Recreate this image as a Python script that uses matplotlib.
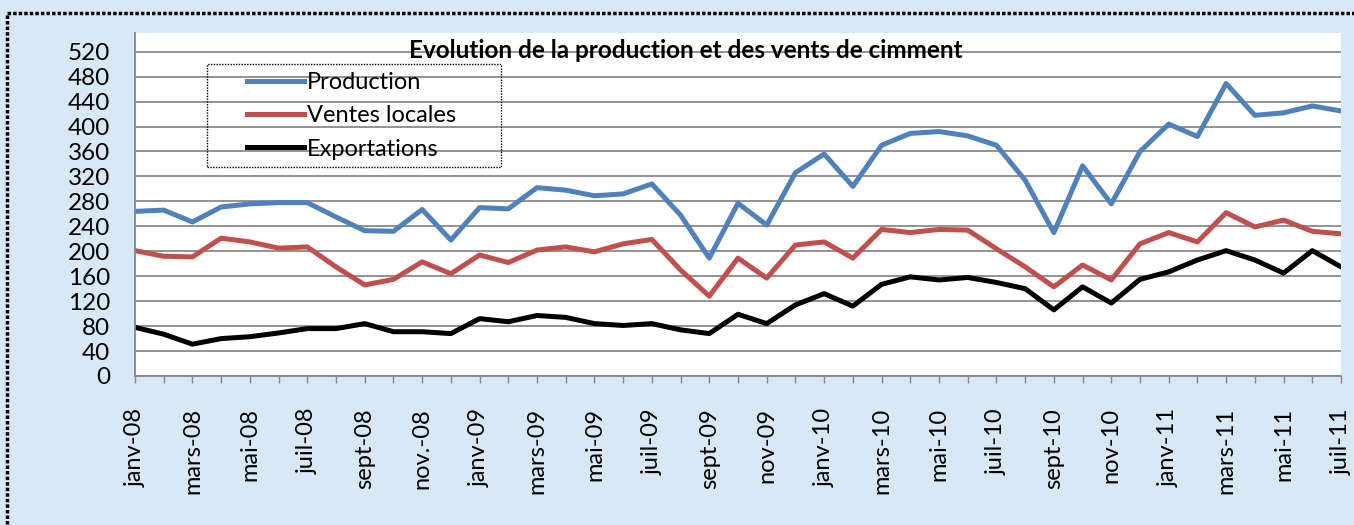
import matplotlib.pyplot as plt
import matplotlib.patches as patches
import numpy as np

plt.rcParams.update({"font.family": ["Lato", "DejaVu Sans"]})

# monthly values, janv-08 .. juil-11
production = [264, 266, 247, 271, 276, 278, 278, 255, 233, 232, 267, 218, 270, 268, 302,
              298, 289, 292, 308, 258, 189, 277, 242, 326, 356, 304, 370, 389, 392, 385,
              370, 314, 230, 337, 276, 360, 404, 384, 469, 418, 422, 433, 425]
ventes_locales = [201, 192, 191, 221, 215, 205, 207, 175, 146, 155, 183, 164, 194, 182, 202,
                  207, 199, 212, 219, 170, 128, 189, 157, 210, 215, 189, 235, 230, 235, 234,
                  204, 175, 143, 178, 154, 212, 230, 215, 262, 239, 250, 232, 228]
exportations = [78, 67, 51, 60, 63, 69, 76, 76, 84, 71, 71, 68, 92, 87, 97,
                94, 84, 81, 84, 74, 68, 99, 84, 114, 132, 112, 147, 159, 154, 158,
                150, 140, 106, 143, 117, 155, 167, 186, 201, 186, 165, 201, 175]
tick_labels = ["janv-08", "mars-08", "mai-08", "juil-08", "sept-08", "nov.-08",
               "janv-09", "mars-09", "mai-09", "juil-09", "sept-09", "nov-09",
               "janv-10", "mars-10", "mai-10", "juil-10", "sept-10", "nov-10",
               "janv-11", "mars-11", "mai-11", "juil-11"]

W, H = 1354, 525
fig = plt.figure(figsize=(W / 100, H / 100), dpi=100)
fig.patch.set_facecolor("#d9e8f6")

# dotted outer frame of the chart object
fig.patches.append(patches.Rectangle((7 / W, -0.1), 1.2, 1 - 13 / H + 0.1,
                                     transform=fig.transFigure, fill=False,
                                     edgecolor="black", linewidth=2.5,
                                     linestyle=(0, (1, 0.6))))

ax = fig.add_axes([135 / W, 1 - 376 / H, (1341 - 135) / W, (376 - 33) / H])
ax.set_facecolor("white")

x = np.arange(len(production))
ax.plot(x, production, color="#4F81BD", linewidth=3.6, label="Production", solid_joinstyle="round")
ax.plot(x, ventes_locales, color="#C0504D", linewidth=3.6, label="Ventes locales", solid_joinstyle="round")
ax.plot(x, exportations, color="black", linewidth=3.6, label="Exportations", solid_joinstyle="round")

ax.set_xlim(0, len(production) - 1)
ax.set_ylim(0, 550)
ax.set_yticks(np.arange(0, 521, 40))
ax.set_xticks(x)
ax.set_xticklabels([tick_labels[i // 2] if i % 2 == 0 else "" for i in x],
                   rotation=90, va="top", ha="center")
ax.tick_params(axis="x", length=5, width=1, color="#868686", pad=18, labelsize=17)
ax.tick_params(axis="y", length=0, pad=18, labelsize=17.5)

ax.grid(axis="y", color="#8a8a8a", linewidth=1.3)
ax.set_axisbelow(True)
for s in ["top", "right"]:
    ax.spines[s].set_visible(False)
for s in ["left", "bottom"]:
    ax.spines[s].set_color("#868686")
    ax.spines[s].set_linewidth(1.3)

fig.text(686 / W, 1 - 50 / H, "Evolution de la production et des vents de cimment",
         ha="center", va="center", fontsize=17.5, fontweight="bold")

# legend box (transparent, dotted border)
box = patches.Rectangle((207 / W, 1 - 167 / H), (501 - 207) / W, (167 - 64) / H,
                        transform=fig.transFigure, fill=False, edgecolor="black",
                        linewidth=1, linestyle=(0, (1, 1)), clip_on=False, zorder=4)
ax.add_patch(box)
leg = ax.legend(loc="upper left", bbox_to_anchor=(247 / W, 1 - 72 / H),
                bbox_transform=fig.transFigure, frameon=False, fontsize=17,
                handlelength=2.4, handletextpad=0.15, labelspacing=0.52,
                borderpad=0, borderaxespad=0)
leg.set_zorder(5)

fig.savefig("out.png", dpi=100)
